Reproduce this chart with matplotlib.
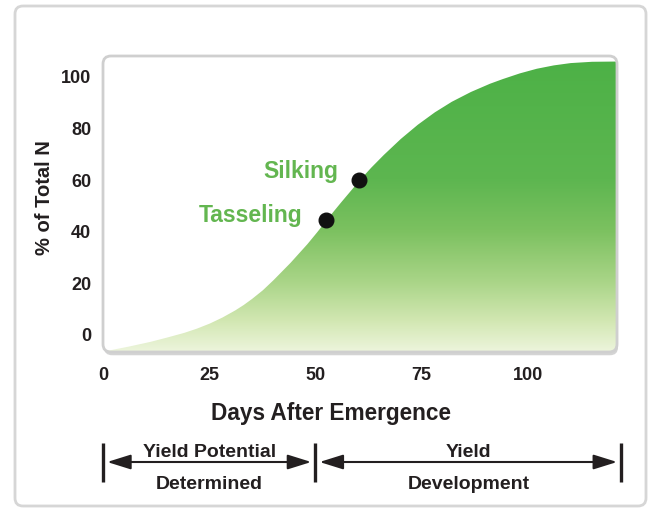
import matplotlib.pyplot as plt
import numpy as np
from matplotlib.colors import LinearSegmentedColormap
from matplotlib.patches import FancyBboxPatch
from matplotlib.transforms import blended_transform_factory

plt.rcParams['font.family'] = ['Liberation Sans', 'DejaVu Sans']
plt.rcParams['font.weight'] = 'bold'

# nitrogen uptake curve (days after emergence vs % of total N)
days = [0, 2, 6, 11, 15, 19, 22, 25, 28, 31, 33, 35, 37.5, 40, 44, 48,
        50.3, 52.5, 54.3, 56, 58.2, 60.3, 63, 66, 70, 74, 78, 82, 86.5,
        91, 94, 98, 102, 106, 110, 115, 121]
pct_n = [-6.6, -6.0, -4.7, -2.9, -1.2, 0.6, 2.25, 4.2, 6.55, 9.3, 11.4,
         13.8, 17.1, 21.0, 27.7, 35.0, 39.6, 44.2, 47.9, 51.3, 55.6, 59.7,
         64.6, 69.6, 75.8, 81.3, 86.1, 90.2, 94.0, 97.2, 99.0, 101.2,
         103.0, 104.3, 105.2, 105.7, 105.8]

stages = ['Tasseling', 'Silking']
stage_days = [52.5, 60.3]
stage_pct = [44.2, 59.7]

x_ticks = [0, 25, 50, 75, 100]
y_ticks = [0, 20, 40, 60, 80, 100]

phase_top = ['Yield Potential', 'Yield']
phase_bottom = ['Determined', 'Development']
phase_start = [0, 50]
phase_end = [50, 122]

dark = '#231f20'
label_green = '#63b650'

fig = plt.figure(figsize=(6.54, 5.10), dpi=100)
W, H = 654, 510

# outer rounded frame
frame = FancyBboxPatch((15 / W, 3 / H), 631 / W, 500 / H,
                       boxstyle='round,pad=0,rounding_size=%f' % (8 / W),
                       mutation_aspect=W / H, transform=fig.transFigure,
                       facecolor='none', edgecolor='#d6d6d6', lw=2)
fig.add_artist(frame)

ax = fig.add_axes([103 / W, (H - 353) / H, 514 / W, 296 / H])
ax.patch.set_visible(False)
for s in ax.spines.values():
    s.set_visible(False)

asp = 514 / 296
rs = 8 / 514
shadow = FancyBboxPatch((0.002, -0.011), 1, 1,
                        boxstyle='round,pad=0,rounding_size=%f' % rs,
                        mutation_aspect=asp, transform=ax.transAxes,
                        facecolor='#d4d4d4', edgecolor='none', zorder=0,
                        clip_on=False)
ax.add_patch(shadow)
box = FancyBboxPatch((0, 0), 1, 1,
                     boxstyle='round,pad=0,rounding_size=%f' % rs,
                     mutation_aspect=asp, transform=ax.transAxes,
                     facecolor='white', edgecolor='none', zorder=0.5,
                     clip_on=False)
ax.add_patch(box)

# vertical green gradient under the curve
green_cmap = LinearSegmentedColormap.from_list('uptake', [
    (0.0, '#edf5dc'), (0.105, '#d2e7b2'), (0.235, '#aad588'),
    (0.41, '#7cc160'), (0.584, '#5db650'), (1.0, '#4cb146')])
ymin, ymax = -7, 107.75
grad = np.linspace(0, 1, 256).reshape(-1, 1)
im = ax.imshow(grad, extent=(0, 121, ymin, ymax), origin='lower',
               aspect='auto', cmap=green_cmap, zorder=1)
im.set_clip_path(box)

cover = ax.fill_between(days, pct_n, 130, color='white', lw=0, zorder=2)
cover.set_clip_path(box)

border = FancyBboxPatch((0, 0), 1, 1,
                        boxstyle='round,pad=0,rounding_size=%f' % rs,
                        mutation_aspect=asp, transform=ax.transAxes,
                        facecolor='none', edgecolor='#cfcfcf', lw=2,
                        zorder=4, clip_on=False)
ax.add_patch(border)

ax.set_xlim(0, 121)
ax.set_ylim(ymin, ymax)

ax.plot(stage_days, stage_pct, 'o', color='#111111', ms=10.5, zorder=5)
offsets = [(-24, -1), (-21, 3)]
for name, d, p, off in zip(stages, stage_days, stage_pct, offsets):
    ax.annotate(name, (d, p), xytext=off, textcoords='offset pixels',
                ha='right', va='baseline', color=label_green, fontsize=16.5)

ax.set_xticks(x_ticks)
ax.set_yticks(y_ticks)
ax.tick_params(length=0, labelsize=13, colors=dark)
ax.tick_params(axis='x', pad=10)
ax.tick_params(axis='y', pad=8.5)

fig.text(44.5 / W, (H - 198) / H, '% of Total N', rotation=90, ha='center',
         va='center', fontsize=14.5, color=dark)
fig.text(331 / W, (H - 420) / H, 'Days After Emergence', ha='center',
         va='baseline', fontsize=16.3, color=dark)

# growth phase arrows below the axis
trans = blended_transform_factory(ax.transData, fig.transFigure)
arrow_y = (H - 463) / H
bar_lo, bar_hi = (H - 483) / H, (H - 444) / H
for x in sorted(set(phase_start + phase_end)):
    ax.plot([x, x], [bar_lo, bar_hi], transform=trans, color=dark, lw=2.4,
            clip_on=False, solid_capstyle='butt')
for top, bottom, x0, x1 in zip(phase_top, phase_bottom, phase_start, phase_end):
    ax.annotate('', xy=(x0, arrow_y), xytext=(x1, arrow_y), xycoords=trans,
                textcoords=trans, annotation_clip=False,
                arrowprops=dict(arrowstyle='<|-|>,head_length=0.8,head_width=0.25',
                                mutation_scale=18, color=dark, lw=1.5,
                                shrinkA=3, shrinkB=3))
    xm = (x0 + x1) / 2
    ax.text(xm, (H - 457) / H, top, transform=trans, ha='center',
            va='baseline', fontsize=14, color=dark)
    ax.text(xm, (H - 489) / H, bottom, transform=trans, ha='center',
            va='baseline', fontsize=14, color=dark)

fig.savefig('out.png', dpi=100)
